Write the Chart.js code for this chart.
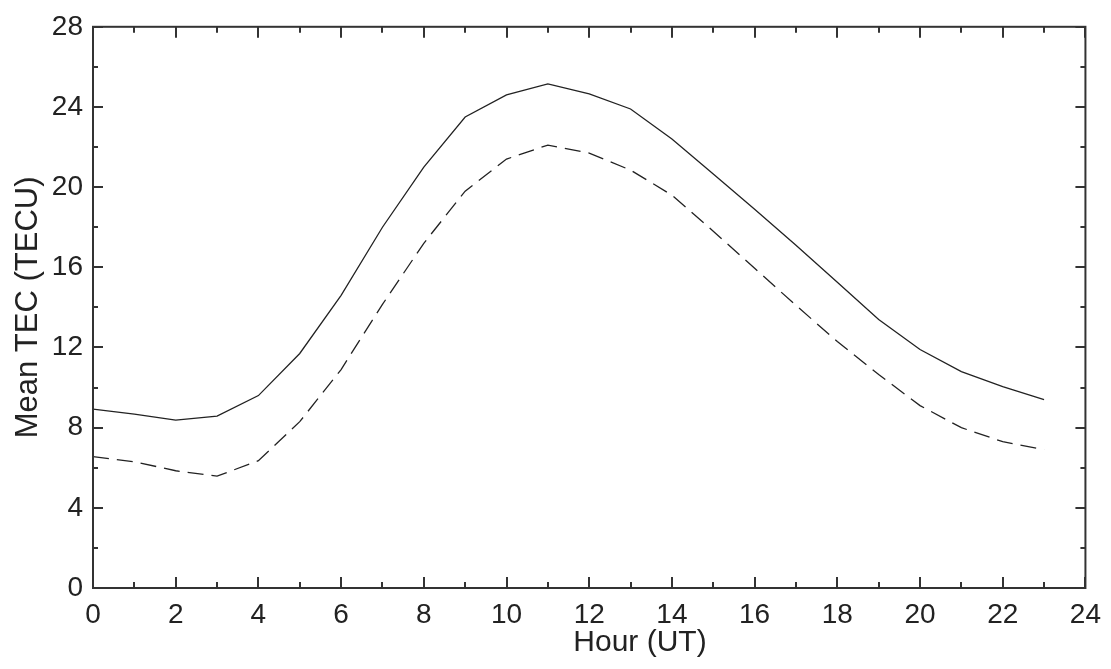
<!DOCTYPE html>
<html>
<head>
<meta charset="utf-8">
<script src="https://cdn.jsdelivr.net/npm/chart.js@4.4.0/dist/chart.umd.min.js"></script>
<style>
html,body{margin:0;padding:0;background:#fff;}
#wrap{width:1111px;height:669px;position:relative;}
</style>
</head>
<body>
<div id="wrap"><canvas id="c" width="1111" height="669"></canvas></div>
<script>
const hours = [0,1,2,3,4,5,6,7,8,9,10,11,12,13,14,15,16,17,18,19,20,21,22,23];
const solidTEC = [8.92, 8.67, 8.38, 8.58, 9.6, 11.7, 14.6, 18.0, 21.0, 23.5, 24.6, 25.15, 24.65, 23.9, 22.4, 20.65, 18.9, 17.1, 15.25, 13.4, 11.9, 10.8, 10.05, 9.4];
const dashedTEC = [6.55, 6.3, 5.85, 5.58, 6.35, 8.3, 10.9, 14.15, 17.2, 19.8, 21.4, 22.1, 21.7, 20.85, 19.6, 17.8, 15.95, 14.1, 12.3, 10.65, 9.1, 8.0, 7.3, 6.9];
const xTicks = [0,2,4,6,8,10,12,14,16,18,20,22,24];
const yTicks = [0,4,8,12,16,20,24,28];
const xTitle = 'Hour (UT)';
const yTitle = 'Mean TEC (TECU)';

const FONT = '"Liberation Sans", Arial, sans-serif';
const INK = '#222';

const boxPlugin = {
  id: 'boxTicks',
  afterDraw(chart) {
    const ctx = chart.ctx;
    const a = chart.chartArea;
    const xs = chart.scales.x, ys = chart.scales.y;
    ctx.save();
    ctx.strokeStyle = '#333';
    ctx.lineWidth = 2;
    ctx.strokeRect(a.left, a.top, a.right - a.left, a.bottom - a.top);
    for (let h = xs.min; h <= xs.max; h += 1) {
      const px = Math.round(xs.getPixelForValue(h));
      const len = (h % 2 === 0) ? 11 : 6;
      ctx.beginPath();
      ctx.moveTo(px, a.bottom); ctx.lineTo(px, a.bottom - len);
      ctx.moveTo(px, a.top); ctx.lineTo(px, a.top + len);
      ctx.stroke();
    }
    for (let v = ys.min; v <= ys.max; v += 2) {
      const py = Math.round(ys.getPixelForValue(v));
      const len = (v % 4 === 0) ? 10 : 5;
      ctx.beginPath();
      ctx.moveTo(a.left, py); ctx.lineTo(a.left + len, py);
      ctx.moveTo(a.right, py); ctx.lineTo(a.right - len, py);
      ctx.stroke();
    }
    // x axis title (offset right of center as in the reference)
    ctx.fillStyle = INK;
    ctx.font = '30px ' + FONT;
    ctx.textAlign = 'center';
    ctx.textBaseline = 'middle';
    ctx.fillText(xTitle, 640, 643);
    ctx.restore();
  }
};

new Chart(document.getElementById('c'), {
  type: 'line',
  data: {
    datasets: [
      {
        data: hours.map((h, i) => ({x: h, y: solidTEC[i]})),
        borderColor: INK, borderWidth: 1.3, pointRadius: 0, tension: 0, fill: false
      },
      {
        data: hours.map((h, i) => ({x: h, y: dashedTEC[i]})),
        borderColor: INK, borderWidth: 1.3, pointRadius: 0, tension: 0, fill: false,
        borderDash: [16, 8]
      }
    ]
  },
  options: {
    responsive: false,
    animation: false,
    devicePixelRatio: 1,
    layout: { padding: { top: 24, right: 22, left: 0, bottom: 0 } },
    plugins: { legend: { display: false }, tooltip: { enabled: false } },
    scales: {
      x: {
        type: 'linear', min: 0, max: 24,
        afterBuildTicks: (s) => { s.ticks = xTicks.map(v => ({value: v})); },
        afterFit: (s) => { s.height = 81; },
        grid: { display: false, drawTicks: false },
        border: { display: false },
        ticks: { padding: 10, color: INK, font: { family: FONT, size: 28 }, maxRotation: 0, autoSkip: false },
        title: { display: false }
      },
      y: {
        type: 'linear', min: 0, max: 28,
        afterBuildTicks: (s) => { s.ticks = yTicks.map(v => ({value: v})); },
        afterFit: (s) => { s.width = 93; },
        grid: { display: false, drawTicks: false },
        border: { display: false },
        ticks: { padding: 10, color: INK, font: { family: FONT, size: 28 }, autoSkip: false },
        title: { display: true, text: yTitle, color: INK, font: { family: FONT, size: 31 }, padding: { top: 10, bottom: 0 } }
      }
    }
  },
  plugins: [boxPlugin]
});
</script>
</body>
</html>
